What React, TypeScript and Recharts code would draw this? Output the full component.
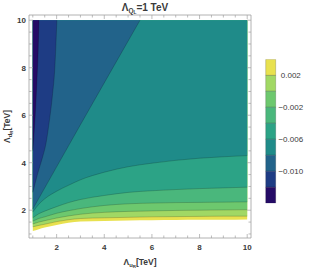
import React from 'react';
import { ComposedChart, Area, Line, XAxis, YAxis, BarChart, Bar } from 'recharts';

// ---- data ----
const xGrid = [1, 1.25, 1.5, 2, 2.5, 3, 4, 5, 6, 7, 8, 9, 10];
const edgeLow = [1.12, 1.2, 1.27, 1.38, 1.47, 1.52, 1.55, 1.57, 1.58, 1.59, 1.6, 1.6, 1.61];
const levelP002 = [1.3, 1.36, 1.41, 1.52, 1.6, 1.65, 1.68, 1.7, 1.72, 1.73, 1.74, 1.75, 1.75];
const level0 = [1.42, 1.5, 1.56, 1.67, 1.76, 1.83, 1.91, 1.95, 1.97, 1.99, 2.0, 2.01, 2.02];
const levelM002 = [1.54, 1.65, 1.72, 1.87, 1.98, 2.07, 2.2, 2.27, 2.3, 2.32, 2.33, 2.34, 2.35];
const levelM004 = [1.68, 1.85, 1.96, 2.15, 2.32, 2.45, 2.62, 2.75, 2.82, 2.87, 2.91, 2.94, 2.97];
const levelM006 = [1.92, 2.25, 2.48, 2.8, 3.05, 3.28, 3.6, 3.83, 3.98, 4.1, 4.19, 4.25, 4.3];
const levelM008X = [1, 3, 5.5];
const levelM008Y = [2.05, 5.6, 10];
const levelM010X = [1, 1.1, 1.25, 1.4, 1.55, 1.7, 1.82, 1.93, 2.01];
const levelM010Y = [2.75, 3.15, 3.7, 4.2, 4.8, 5.8, 6.8, 8.1, 10];
const levelM012X = [1, 1.05, 1.1, 1.17, 1.22, 1.26];
const levelM012Y = [4.5, 5.2, 6.0, 7.4, 8.6, 10];
const yTop = 10;

const xTicks = [1, 1.5, 2, 2.5, 3, 3.5, 4, 4.5, 5, 5.5, 6, 6.5, 7, 7.5, 8, 8.5, 9, 9.5, 10];
const yTicks = xTicks;
const majorLabels = [2, 4, 6, 8, 10];

const bandLow = [-0.014, -0.012, -0.01, -0.008, -0.006, -0.004, -0.002, 0, 0.002];
const bandHigh = [-0.012, -0.01, -0.008, -0.006, -0.004, -0.002, 0, 0.002, 0.004];
const cbTicks = [0.002, -0.002, -0.006, -0.01];
const cbTickLabels = ['0.002', '\u22120.002', '\u22120.006', '\u22120.010'];

// ---- styles ----
const bandColors = ['#250b66', '#1e3c84', '#22638a', '#1f8b89', '#2ca386', '#4ab77c', '#6dc86e', '#a1d864', '#e8e14f'];
const FRAME = '#a0a0a0';
const TXT = '#3a3a3a';
const FONT = '"Liberation Sans", Arial, sans-serif';

const mk = (xs: number[], ys: number[]) => xs.map((x, i) => ({ x, y: ys[i], r: [ys[i], yTop] }));
const fills = [
  mk(xGrid, edgeLow),
  mk(xGrid, levelP002),
  mk(xGrid, level0),
  mk(xGrid, levelM002),
  mk(xGrid, levelM004),
  mk(xGrid, levelM006),
  mk(levelM008X, levelM008Y),
  mk(levelM010X, levelM010Y),
  mk(levelM012X, levelM012Y),
];
const fillColors = [bandColors[8], bandColors[7], bandColors[6], bandColors[5], bandColors[4], bandColors[3], bandColors[2], bandColors[1], bandColors[0]];

const cbRow: any = { name: 'bar' };
bandLow.forEach((lo, i) => {
  cbRow['b' + i] = lo >= 0 ? bandHigh[i] - lo : lo - bandHigh[i];
});
const cbData = [cbRow];
const cbOrder = [7, 8, 6, 5, 4, 3, 2, 1, 0];

const isMajor = (v: number) => majorLabels.includes(v);

function BottomTick(p: any) {
  const v = p.payload.value;
  const m = isMajor(v);
  return (
    <g>
      <line x1={p.x} x2={p.x} y1={p.y} y2={p.y - (m ? 4 : 2.5)} stroke={FRAME} strokeWidth={0.7} />
      {m && (
        <text x={p.x} y={p.y + 12} textAnchor="middle" fontSize={8} fontWeight="bold" fill={TXT} fontFamily={FONT}>
          {v}
        </text>
      )}
    </g>
  );
}
function TopTick(p: any) {
  const m = isMajor(p.payload.value);
  return <line x1={p.x} x2={p.x} y1={p.y} y2={p.y + (m ? 4 : 2.5)} stroke={FRAME} strokeWidth={0.7} />;
}
function LeftTick(p: any) {
  const v = p.payload.value;
  const m = isMajor(v);
  return (
    <g>
      <line x1={p.x} x2={p.x + (m ? 4 : 2.5)} y1={p.y} y2={p.y} stroke={FRAME} strokeWidth={0.7} />
      {m && (
        <text x={p.x - 3} y={p.y + 3} textAnchor="end" fontSize={8} fontWeight="bold" fill={TXT} fontFamily={FONT}>
          {v}
        </text>
      )}
    </g>
  );
}
function RightTick(p: any) {
  const m = isMajor(p.payload.value);
  return <line x1={p.x} x2={p.x - (m ? 4 : 2.5)} y1={p.y} y2={p.y} stroke={FRAME} strokeWidth={0.7} />;
}
function CbTick(p: any) {
  const idx = cbTicks.indexOf(p.payload.value);
  return (
    <text x={p.x + 15.5} y={p.y + 3} textAnchor="middle" fontSize={8} fill={TXT} fontFamily={FONT}>
      {cbTickLabels[idx]}
    </text>
  );
}

export default function App() {
  return (
    <div style={{ position: 'absolute', left: 0, top: 0, width: 311, height: 270, background: '#fff' }}>
      <div style={{ position: 'absolute', left: 0, top: 0 }}>
        <ComposedChart width={311} height={270} margin={{ top: 14, right: 59, bottom: 31, left: 28 }}>
          <XAxis xAxisId="b" dataKey="x" type="number" domain={[0.84, 10.16]} allowDataOverflow ticks={xTicks} interval={0}
            height={1} tickSize={0} tickMargin={0} axisLine={{ stroke: FRAME, strokeWidth: 0.8 }} tickLine={false} tick={<BottomTick />} />
          <XAxis xAxisId="top" orientation="top" dataKey="x" type="number" domain={[0.84, 10.16]} allowDataOverflow ticks={xTicks} interval={0}
            height={1} tickSize={0} tickMargin={0} axisLine={{ stroke: FRAME, strokeWidth: 0.8 }} tickLine={false} tick={<TopTick />} />
          <YAxis yAxisId="l" type="number" domain={[0.83, 10.22]} allowDataOverflow ticks={yTicks} interval={0}
            width={1} tickSize={0} tickMargin={0} axisLine={{ stroke: FRAME, strokeWidth: 0.8 }} tickLine={false} tick={<LeftTick />} />
          <YAxis yAxisId="right" orientation="right" type="number" domain={[0.83, 10.22]} allowDataOverflow ticks={yTicks} interval={0}
            width={1} tickSize={0} tickMargin={0} axisLine={{ stroke: FRAME, strokeWidth: 0.8 }} tickLine={false} tick={<RightTick />} />
          {fills.map((d, i) => (
            <Area key={'a' + i} xAxisId="b" yAxisId="l" data={d} dataKey="r" type="monotone" fill={fillColors[i]} fillOpacity={1}
              stroke="none" isAnimationActive={false} dot={false} activeDot={false} />
          ))}
          {fills.slice(1).map((d, i) => (
            <Line key={'l' + i} xAxisId="b" yAxisId="l" data={d} dataKey="y" type="monotone" stroke="#000" strokeOpacity={0.3}
              strokeWidth={0.6} dot={false} activeDot={false} isAnimationActive={false} />
          ))}
          <Line xAxisId="top" yAxisId="right" data={fills[0]} dataKey="y" stroke="none" dot={false} activeDot={false} isAnimationActive={false} />
        </ComposedChart>
      </div>
      <div style={{ position: 'absolute', left: 262, top: 55 }}>
        <BarChart width={49} height={152} data={cbData} margin={{ top: 4.3, right: 5.7, bottom: 3.7, left: 3.7 }}
          stackOffset="sign" barCategoryGap={0} barGap={0}>
          <XAxis dataKey="name" hide height={0} />
          <YAxis orientation="right" type="number" domain={[-0.014, 0.004]} allowDataOverflow ticks={cbTicks} interval={0}
            width={30} tickSize={0} tickMargin={0} axisLine={false} tickLine={false} tick={<CbTick />} />
          {cbOrder.map((i) => (
            <Bar key={'b' + i} dataKey={'b' + i} stackId="cb" fill={bandColors[i]} stroke="rgba(0,0,0,0.3)"
              strokeWidth={0.6} isAnimationActive={false} />
          ))}
        </BarChart>
      </div>
      <svg width={311} height={270} style={{ position: 'absolute', left: 0, top: 0, pointerEvents: 'none' }}>
        <text x={145} y={10.5} textAnchor="middle" fontSize={10} fontWeight="bold" fill={TXT} fontFamily={FONT}>
          Λ<tspan fontSize={6.5} dy={2.5}>Q</tspan>
          <tspan fontSize={4.8} dy={1.2}>L</tspan>
          <tspan fontSize={10} dy={-3.7}>=1 TeV</tspan>
        </text>
        <text x={140} y={265} textAnchor="middle" fontSize={8.5} fontWeight="bold" fill={TXT} fontFamily={FONT}>
          Λ<tspan fontSize={5.8} dy={2.2}>u</tspan>
          <tspan fontSize={4.4} dy={1}>R</tspan>
          <tspan fontSize={8.5} dy={-3.2}>[TeV]</tspan>
        </text>
        <text x={0} y={0} transform="translate(9.5,126.5) rotate(-90)" textAnchor="middle" fontSize={8.5} fontWeight="bold" fill={TXT} fontFamily={FONT}>
          Λ<tspan fontSize={5.8} dy={2.2}>d</tspan>
          <tspan fontSize={4.4} dy={1}>R</tspan>
          <tspan fontSize={8.5} dy={-3.2}>[TeV]</tspan>
        </text>
      </svg>
    </div>
  );
}
